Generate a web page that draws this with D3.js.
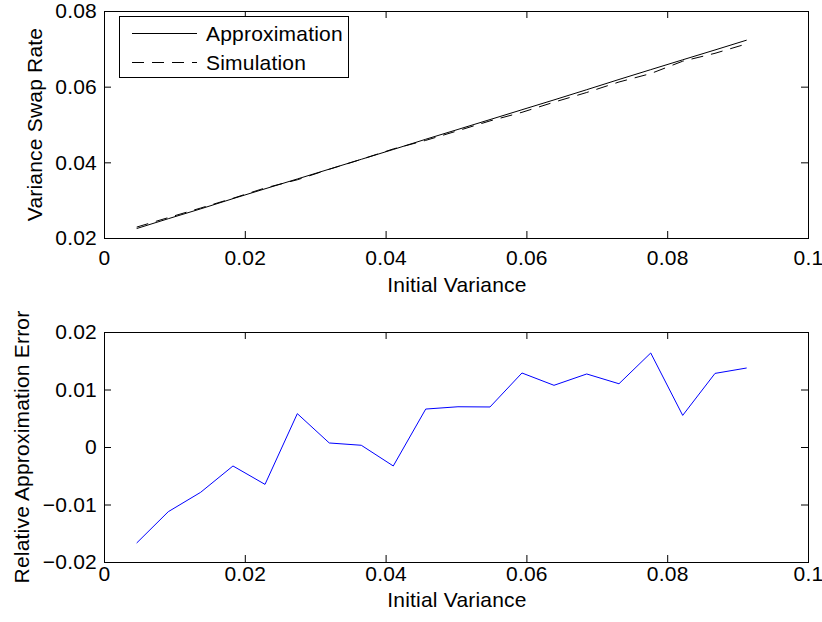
<!DOCTYPE html>
<html>
<head>
<meta charset="utf-8">
<script src="https://cdn.jsdelivr.net/npm/d3@7"></script>
<style>
  body { margin: 0; background: #fff; }
  svg { display: block; font-family: "Liberation Sans", Arial, sans-serif; }
  .tick text { font-size: 21px; fill: #000; letter-spacing: 0.2px; }
  .tick line { stroke: #000; }
  .label { font-size: 21px; letter-spacing: 0.2px; }
</style>
</head>
<body>
<div class="chart"></div>
<script>
// initial variance (x) shared by both panels
const v0 = [0.00464, 0.00913, 0.01373, 0.01832, 0.02287, 0.02746, 0.03200, 0.03655, 0.04109, 0.04570,
            0.05028, 0.05483, 0.05937, 0.06392, 0.06857, 0.07315, 0.07766, 0.08220, 0.08679, 0.09129];
const approx = [0.0225, 0.0251, 0.0277, 0.0304, 0.0330, 0.0356, 0.0382, 0.0408, 0.0434, 0.0461,
                0.0487, 0.0513, 0.0539, 0.0565, 0.0592, 0.0619, 0.0645, 0.0671, 0.0697, 0.0723];
const sim = [0.02288, 0.02539, 0.02792, 0.03050, 0.03322, 0.03539, 0.03817, 0.04079, 0.04354, 0.04580,
             0.04836, 0.05095, 0.05322, 0.05590, 0.05846, 0.06123, 0.06346, 0.06673, 0.06882, 0.07132];
const relErr = [-0.0167, -0.01125, -0.00788, -0.0033, -0.0065, 0.0058, 0.0007, 0.0003, -0.0033, 0.0066,
                0.0070, 0.00696, 0.01287, 0.01073, 0.0127, 0.0110, 0.01635, 0.0055, 0.0128, 0.01374];

const xTicks = [0, 0.02, 0.04, 0.06, 0.08, 0.1];
const xTickLabels = ["0", "0.02", "0.04", "0.06", "0.08", "0.1"];
const yTopTicks = [0.02, 0.04, 0.06, 0.08];
const yTopLabels = ["0.02", "0.04", "0.06", "0.08"];
const yBotTicks = [-0.02, -0.01, 0, 0.01, 0.02];
const yBotLabels = ["\u22120.02", "\u22120.01", "0", "0.01", "0.02"];

const w = 822, h = 622;
const left = 104, right = 808;

const svg = d3.select(".chart").append("svg")
    .attr("width", w)
    .attr("height", h);

const x = d3.scaleLinear().domain([0, 0.1]).range([left, right]);

const drawPanel = (p) => {
    const y = d3.scaleLinear().domain(p.yDomain).range([p.bottom, p.top]);
    const xfmt = d => xTickLabels[xTicks.indexOf(d)];
    const yfmt = d => p.yLabels[p.yTicks.indexOf(d)];

    svg.append("g")
        .attr("transform", `translate(0, ${p.bottom})`)
        .call(d3.axisBottom(x).tickValues(xTicks).tickFormat(xfmt)
            .tickSizeInner(-7).tickSizeOuter(0).tickPadding(p.xPad))
        .call(g => g.select(".domain").remove());
    svg.append("g")
        .attr("transform", `translate(0, ${p.top})`)
        .call(d3.axisTop(x).tickValues(xTicks).tickFormat("")
            .tickSizeInner(-7).tickSizeOuter(0))
        .call(g => g.select(".domain").remove());
    svg.append("g")
        .attr("transform", `translate(${left}, 0)`)
        .call(d3.axisLeft(y).tickValues(p.yTicks).tickFormat(yfmt)
            .tickSizeInner(-7).tickSizeOuter(0).tickPadding(7))
        .call(g => g.select(".domain").remove());
    svg.append("g")
        .attr("transform", `translate(${right}, 0)`)
        .call(d3.axisRight(y).tickValues(p.yTicks).tickFormat("")
            .tickSizeInner(-7).tickSizeOuter(0))
        .call(g => g.select(".domain").remove());

    svg.append("rect")
        .attr("x", left + 0.5).attr("y", p.top + 0.5)
        .attr("width", right - left).attr("height", p.bottom - p.top)
        .attr("fill", "none").attr("stroke", "#000");

    svg.append("text")
        .attr("class", "label")
        .attr("x", (left + right) / 2 + 1)
        .attr("y", p.xTitleY)
        .attr("text-anchor", "middle")
        .text("Initial Variance");

    svg.append("text")
        .attr("class", "label")
        .attr("transform", `translate(${p.yTitleX}, ${(p.top + p.bottom) / 2}) rotate(-90)`)
        .attr("text-anchor", "middle")
        .text(p.yTitle);

    return y;
};

const yTop = drawPanel({top: 11, bottom: 238, yDomain: [0.02, 0.08], yTicks: yTopTicks, yLabels: yTopLabels,
    xPad: 12, xTitleY: 292, yTitleX: 42, yTitle: "Variance Swap Rate"});
const yBot = drawPanel({top: 332, bottom: 562, yDomain: [-0.02, 0.02], yTicks: yBotTicks, yLabels: yBotLabels,
    xPad: 4, xTitleY: 607, yTitleX: 29, yTitle: "Relative Approximation Error"});

const lineTop = d3.line().x((d, i) => x(v0[i])).y(d => yTop(d));
svg.append("path")
    .datum(approx)
    .attr("d", lineTop)
    .attr("fill", "none")
    .attr("stroke", "#000")
    .attr("stroke-width", 1);
svg.append("path")
    .datum(sim)
    .attr("d", lineTop)
    .attr("fill", "none")
    .attr("stroke", "#000")
    .attr("stroke-width", 1)
    .attr("stroke-dasharray", "12,8");

svg.append("path")
    .datum(relErr)
    .attr("d", d3.line().x((d, i) => x(v0[i])).y(d => yBot(d)))
    .attr("fill", "none")
    .attr("stroke", "#0000ff")
    .attr("stroke-width", 1);

// legend
const legend = svg.append("g");
legend.append("rect")
    .attr("x", 119.5).attr("y", 16.5)
    .attr("width", 229).attr("height", 61)
    .attr("fill", "#fff").attr("stroke", "#000");
const legendItems = [["Approximation", null, 33.5], ["Simulation", "12,8", 62.5]];
legendItems.forEach(([name, dash, ly]) => {
    legend.append("line")
        .attr("x1", 132).attr("x2", 197)
        .attr("y1", ly).attr("y2", ly)
        .attr("stroke", "#000")
        .attr("stroke-dasharray", dash);
    legend.append("text")
        .attr("class", "label")
        .attr("x", 206).attr("y", ly)
        .attr("dy", "0.35em")
        .text(name);
});
</script>
</body>
</html>
